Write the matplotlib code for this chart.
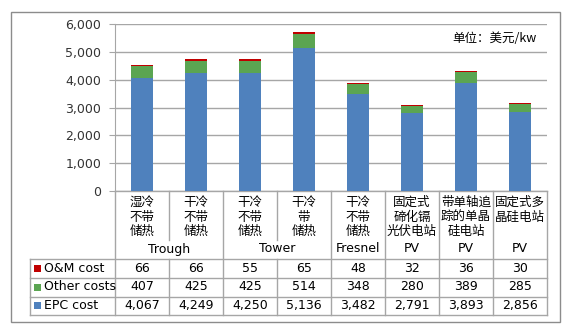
import matplotlib
matplotlib.use("Agg")
import matplotlib.pyplot as plt
import matplotlib.transforms as mtransforms
from matplotlib.patches import Rectangle
import numpy as np

plt.rcParams['font.family'] = ['DejaVu Sans', 'Noto Sans CJK SC']

categories = ['湿冷\n不带\n储热', '干冷\n不带\n储热', '干冷\n不带\n储热', '干冷\n带\n储热',
              '干冷\n不带\n储热', '固定式\n碲化镉\n光伏电站', '带单轴追\n踪的单晶\n硅电站', '固定式多\n晶硅电站']
groups = [('Trough', 0, 2), ('Tower', 2, 4), ('Fresnel', 4, 5), ('PV', 5, 6), ('PV', 6, 7), ('PV', 7, 8)]
om_cost = [66, 66, 55, 65, 48, 32, 36, 30]
other_costs = [407, 425, 425, 514, 348, 280, 389, 285]
epc_cost = [4067, 4249, 4250, 5136, 3482, 2791, 3893, 2856]
yticks = [0, 1000, 2000, 3000, 4000, 5000, 6000]

c_epc = '#4F81BD'
c_other = '#5BA552'
c_om = '#C00000'
grid_c = '#A6A6A6'

W, H = 580, 327
fig = plt.figure(figsize=(W / 100, H / 100), dpi=100)
ax = fig.add_axes([115 / W, 1 - 191 / H, (547 - 115) / W, (191 - 24) / H])

x = np.arange(len(categories))
epc = np.array(epc_cost)
oth = np.array(other_costs)
om = np.array(om_cost)
ax.bar(x, epc, width=0.4, color=c_epc, zorder=3)
ax.bar(x, oth, width=0.4, bottom=epc, color=c_other, zorder=3)
ax.bar(x, om, width=0.4, bottom=epc + oth, color=c_om, zorder=3)

ax.set_xlim(-0.5, len(categories) - 0.5)
ax.set_ylim(0, 6000)
ax.set_yticks(yticks)
ax.set_yticklabels(['{:,}'.format(v) for v in yticks], fontsize=9, color='#333333')
ax.set_xticks([])
ax.yaxis.grid(True, color=grid_c, linewidth=1)
ax.set_axisbelow(True)
for s in ['top', 'right', 'bottom']:
    ax.spines[s].set_visible(False)
ax.spines['left'].set_color(grid_c)
ax.tick_params(axis='y', length=4, color=grid_c, pad=6)

# unit label
fig.text(537 / W, 1 - 38 / H, '单位：美元/kw', ha='right', va='center', fontsize=9,
         family=['Noto Sans CJK SC', 'DejaVu Sans'])

# data table below the axes: x in data units, y in figure pixels from top
trans = mtransforms.blended_transform_factory(ax.transData, fig.transFigure)


def fy(py):
    return 1 - py / H


def hline(x0, x1, py):
    ax.plot([x0, x1], [fy(py), fy(py)], transform=trans, color=grid_c, lw=1, clip_on=False)


def vline(xx, py0, py1):
    ax.plot([xx, xx], [fy(py0), fy(py1)], transform=trans, color=grid_c, lw=1, clip_on=False)


n = len(categories)
left_px = 30
# left header x in data coordinates
px_per_unit = (547 - 115) / n
x_left = -0.5 - (115 - left_px) / px_per_unit

rows = [('O&M cost', om_cost, c_om), ('Other costs', other_costs, c_other), ('EPC cost', epc_cost, c_epc)]
row_tops = [259, 277.5, 296.5, 315]

hline(-0.5, n - 0.5, 191)
for py in row_tops:
    hline(x_left, n - 0.5, py)
vline(x_left, 259, 315)

bounds = set([g[1] for g in groups] + [n])
for k in range(n + 1):
    xb = k - 0.5
    if k in bounds:
        vline(xb, 191, 315)
    else:
        vline(xb, 191, 240)
        vline(xb, 259, 315)

for i, lab in enumerate(categories):
    ax.text(i, fy(196), lab, transform=trans, ha='center', va='top', fontsize=9,
            linespacing=1.15, family=['Noto Sans CJK SC', 'DejaVu Sans'])

for name, a, b in groups:
    ax.text((a + b - 1) / 2, fy(249), name, transform=trans, ha='center', va='center', fontsize=9)

for r, (name, vals, col) in enumerate(rows):
    yc = (row_tops[r] + row_tops[r + 1]) / 2
    for i, v in enumerate(vals):
        ax.text(i, fy(yc), '{:,}'.format(v), transform=trans, ha='center', va='center', fontsize=9)
    fig.patches.append(Rectangle((34 / W, fy(yc + 3.5)), 7 / W, 7 / H, transform=fig.transFigure,
                                 facecolor=col, edgecolor='none'))
    fig.text(44 / W, fy(yc), name, ha='left', va='center', fontsize=9)

# outer chart frame
fig.patches.append(Rectangle((11 / W, fy(322)), (560 - 11) / W, (322 - 12) / H, transform=fig.transFigure,
                             facecolor='none', edgecolor='#8C8C8C', lw=1))

fig.savefig('out.png', dpi=100)
